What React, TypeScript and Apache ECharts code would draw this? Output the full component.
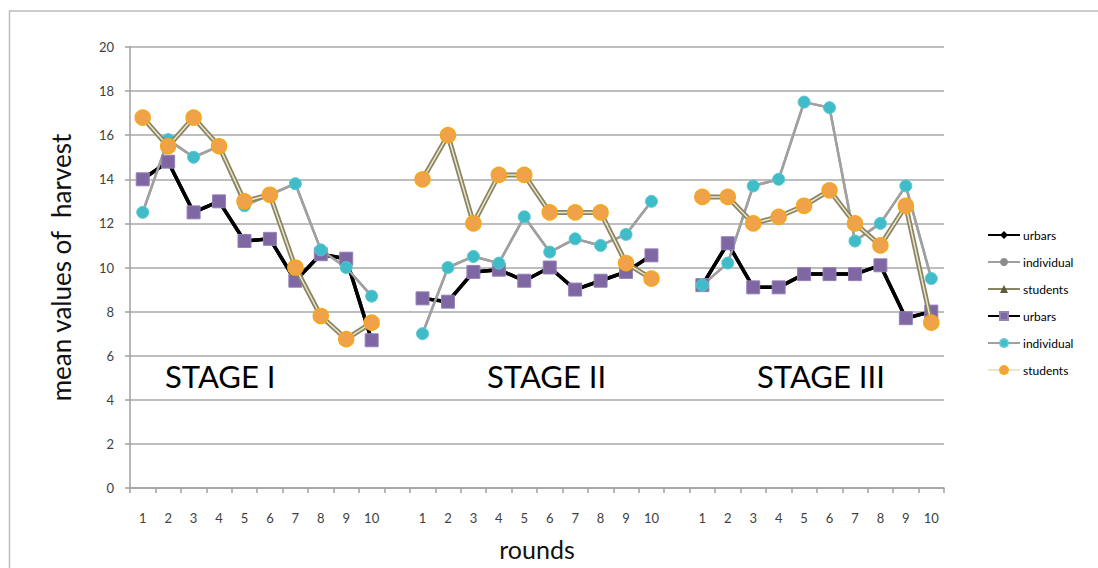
import React, { useEffect, useRef } from "react";
import * as echarts from "echarts";

const roundLabels = ["1", "2", "3", "4", "5", "6", "7", "8", "9", "10"];
const stageNames = ["STAGE I", "STAGE II", "STAGE III"];

// stage I, stage II, stage III values (mean harvest per round)
const urbarsS1 = [14.0, 14.8, 12.5, 13.0, 11.2, 11.3, 9.4, 10.6, 10.4, 6.7];
const urbarsS2 = [8.6, 8.45, 9.8, 9.9, 9.4, 10.0, 9.0, 9.4, 9.8, 10.55];
const urbarsS3 = [9.2, 11.1, 9.1, 9.1, 9.7, 9.7, 9.7, 10.1, 7.7, 8.0];

const individualS1 = [12.5, 15.8, 15.0, 15.5, 12.8, 13.3, 13.8, 10.8, 10.0, 8.7];
const individualS2 = [7.0, 10.0, 10.5, 10.2, 12.3, 10.7, 11.3, 11.0, 11.5, 13.0];
const individualS3 = [9.2, 10.2, 13.7, 14.0, 17.5, 17.25, 11.2, 12.0, 13.7, 9.5];

const studentsS1 = [16.8, 15.5, 16.8, 15.5, 13.0, 13.3, 10.0, 7.8, 6.75, 7.5];
const studentsS2 = [14.0, 16.0, 12.0, 14.2, 14.2, 12.5, 12.5, 12.5, 10.2, 9.5];
const studentsS3 = [13.2, 13.2, 12.0, 12.3, 12.8, 13.5, 12.0, 11.0, 12.8, 7.5];

const yMin = 0;
const yMax = 20;
const yStep = 2;

const FONT = "Lato, 'Open Sans', sans-serif";

function joinStages(a: number[], b: number[], c: number[]) {
  return [...a, null, ...b, null, ...c];
}

const categories: string[] = [];
stageNames.forEach((_, si) => {
  roundLabels.forEach((r) => categories.push(`${si}-${r}`));
  if (si < stageNames.length - 1) categories.push(`gap${si}`);
});

const stageLabelX = [165, 487, 757];

export default function App() {
  const ref = useRef<HTMLDivElement>(null);

  useEffect(() => {
    if (!ref.current) return;
    const chart = echarts.init(ref.current, undefined, { renderer: "svg" });

    const urbars = joinStages(urbarsS1, urbarsS2, urbarsS3);
    const individual = joinStages(individualS1, individualS2, individualS3);
    const students = joinStages(studentsS1, studentsS2, studentsS3);

    const option: any = {
      animation: false,
      backgroundColor: "#ffffff",
      textStyle: { fontFamily: FONT },
      grid: { left: 130, width: 814, top: 47, height: 441, containLabel: false },
      legend: {
        orient: "vertical",
        left: 982,
        top: 224,
        itemWidth: 32,
        itemHeight: 10,
        itemGap: 15,
        textStyle: { fontFamily: FONT, fontSize: 12, color: "#000", padding: [0, 0, 0, -2] },
        formatter: (n: string) => n.trim(),
        data: ["urbars", "individual", "students", "urbars ", "individual ", "students "],
      },
      xAxis: {
        type: "category",
        data: categories,
        boundaryGap: true,
        name: "rounds",
        nameLocation: "middle",
        nameGap: 48,
        nameTextStyle: { fontFamily: FONT, fontSize: 25, color: "#111" },
        axisLine: { show: true, lineStyle: { color: "#a0a0a0", width: 1.5 } },
        axisTick: { show: true, length: 5, interval: 0, lineStyle: { color: "#a0a0a0", width: 1.5 } },
        axisLabel: {
          interval: 0,
          margin: 23,
          fontFamily: FONT,
          fontSize: 13,
          color: "#404040",
          formatter: (v: string) => (v.startsWith("gap") ? "" : v.split("-")[1]),
        },
        splitLine: { show: false },
      },
      yAxis: {
        type: "value",
        min: yMin,
        max: yMax,
        interval: yStep,
        name: "mean values of  harvest",
        nameLocation: "middle",
        nameGap: 56,
        nameTextStyle: { fontFamily: FONT, fontSize: 26, color: "#111" },
        axisLine: { show: true, lineStyle: { color: "#a0a0a0", width: 1.5 } },
        axisTick: { show: true, length: 5, lineStyle: { color: "#a0a0a0", width: 1.5 } },
        axisLabel: { margin: 16, fontFamily: FONT, fontSize: 13, color: "#404040" },
        splitLine: { show: true, lineStyle: { color: "#a8a8a8", width: 1.5 } },
      },
      graphic: [
        {
          type: "rect",
          shape: { x: 9.5, y: 11, width: 1200, height: 700 },
          style: { fill: "none", stroke: "#bdbdbd", lineWidth: 1.5 },
          silent: true,
        },
        ...stageNames.map((s, i) => ({
          type: "text",
          x: stageLabelX[i],
          y: 376,
          style: {
            text: s,
            fontFamily: FONT,
            fontSize: 31,
            fill: "#000",
            align: "left",
            verticalAlign: "middle",
          },
        })),
      ],
      series: [
        {
          name: "urbars",
          type: "line",
          data: urbars,
          connectNulls: false,
          symbol: "diamond",
          symbolSize: 9,
          itemStyle: { color: "#000" },
          lineStyle: { color: "#000", width: 3.5 },
          z: 2,
        },
        {
          name: "individual",
          type: "line",
          data: individual,
          connectNulls: false,
          symbol: "circle",
          symbolSize: 8,
          itemStyle: { color: "#8c8c8c" },
          lineStyle: { color: "#a0a0a0", width: 2.5 },
          z: 2,
        },
        {
          name: "urbars ",
          type: "line",
          data: urbars,
          connectNulls: false,
          symbol: "rect",
          symbolSize: 13,
          itemStyle: { color: "#7f67a3", borderColor: "#9582b8", borderWidth: 1 },
          lineStyle: { color: "#000", width: 3.5 },
          z: 3,
        },
        {
          name: "individual ",
          type: "line",
          data: individual,
          connectNulls: false,
          symbol: "circle",
          symbolSize: 12,
          itemStyle: { color: "#3fbcc8", borderColor: "#5bc8d2", borderWidth: 1 },
          lineStyle: { color: "#a0a0a0", width: 2.5 },
          z: 3,
        },
        {
          name: "students",
          type: "line",
          data: students,
          connectNulls: false,
          symbol: "triangle",
          symbolSize: 9,
          itemStyle: { color: "#5c5a38" },
          lineStyle: { color: "#8a8465", width: 5 },
          z: 4,
        },
        {
          name: "students ",
          type: "line",
          data: students,
          connectNulls: false,
          symbol: "circle",
          symbolSize: 15,
          itemStyle: { color: "#f0a24a", borderColor: "#f5a81c", borderWidth: 1.5 },
          lineStyle: { color: "#ece6c8", width: 1.5 },
          z: 5,
        },
      ],
    };

    chart.setOption(option);
    return () => chart.dispose();
  }, []);

  return (
    <div
      ref={ref}
      style={{ position: "fixed", left: 0, top: 0, width: 1098, height: 568, background: "#fff" }}
    />
  );
}
